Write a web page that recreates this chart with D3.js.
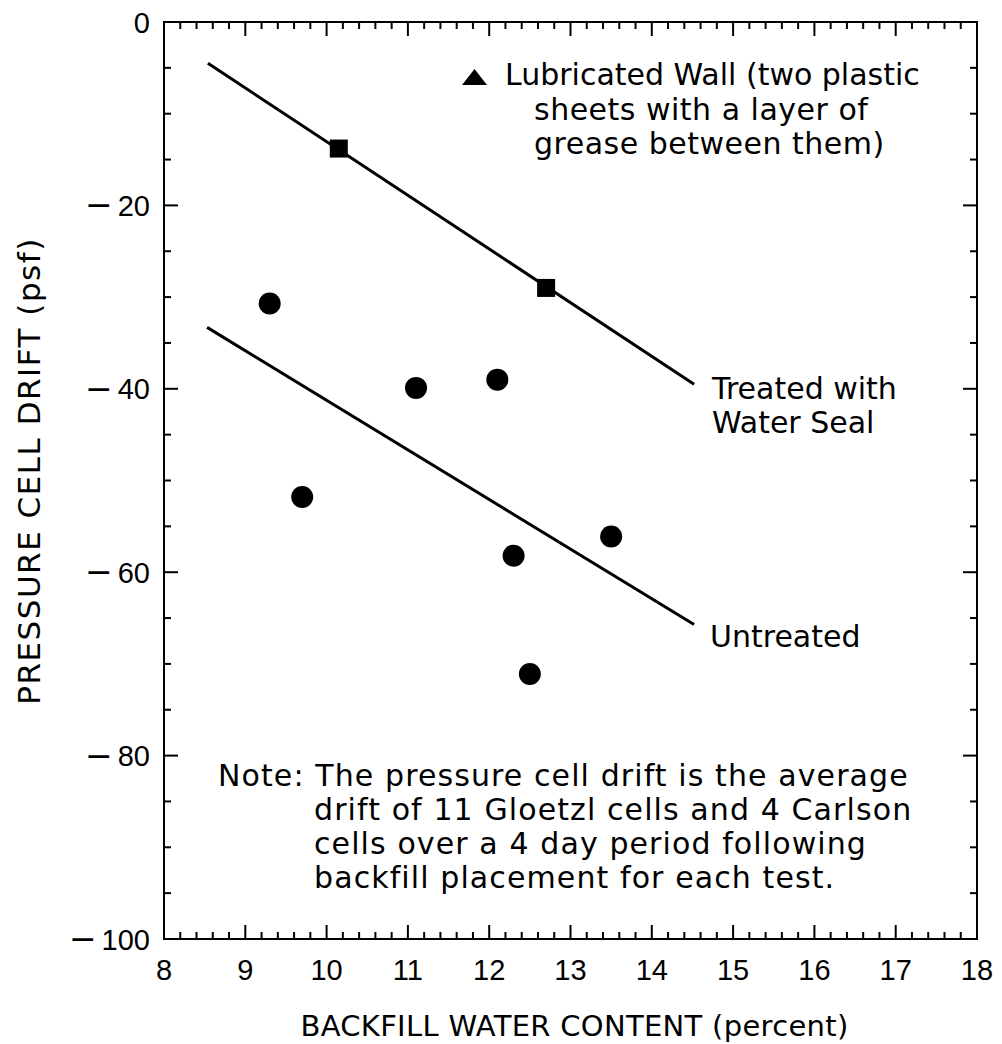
<!DOCTYPE html>
<html>
<head>
<meta charset="utf-8">
<script src="https://cdn.jsdelivr.net/npm/d3@7"></script>
<style>
  html, body { margin: 0; padding: 0; background: #fff; }
  svg { display: block; }
  text { font-family: "DejaVu Sans", sans-serif; fill: #000; }
  .tick-label { font-family: "Liberation Sans", Arial, sans-serif; font-size: 29px; }
</style>
</head>
<body>
<svg id="chart" width="1002" height="1044"></svg>
<script>
// Backfill water content (percent) vs. pressure cell drift (psf)
const xTicks = [8, 9, 10, 11, 12, 13, 14, 15, 16, 17, 18];
const yTicks = [0, -20, -40, -60, -80, -100];

// Cells treated with water seal (squares)
const sealedX = [10.15, 12.7];
const sealedY = [-13.8, -29.0];

// Untreated cells (circles)
const untreatedX = [9.3, 9.7, 11.1, 12.1, 12.3, 12.5, 13.5];
const untreatedY = [-30.7, -51.8, -39.9, -39.0, -58.2, -71.1, -56.1];

// Fitted trend lines (end points)
const sealedFitX = [8.54, 14.52];
const sealedFitY = [-4.5, -39.5];
const untreatedFitX = [8.53, 14.52];
const untreatedFitY = [-33.3, -65.7];

const legendLines = ["Lubricated Wall (two plastic", "sheets with a layer of", "grease between them)"];
const noteLines = [
  "Note: The pressure cell drift is the average",
  "drift of 11 Gloetzl cells and 4 Carlson",
  "cells over a 4 day period following",
  "backfill placement for each test."
];

const svg = d3.select("#chart");
const m = { left: 164, right: 977, top: 22, bottom: 939 };

const x = d3.scaleLinear().domain([8, 18]).range([m.left, m.right]);
const y = d3.scaleLinear().domain([-100, 0]).range([m.bottom, m.top]);

const xMinor = d3.range(8, 18.001, 0.2).map(v => +v.toFixed(1));
const yMinor = d3.range(-100, 0.001, 5);

const major = 14, minor = 7;
const axisG = svg.append("g").attr("stroke", "#000").attr("stroke-width", 2);

// Inward ticks on all four sides
function drawXTicks(yPos, dir) {
  axisG.selectAll(null).data(xMinor).enter().append("line")
    .attr("x1", d => x(d)).attr("x2", d => x(d))
    .attr("y1", yPos)
    .attr("y2", d => yPos + dir * (Math.abs(d - Math.round(d)) < 1e-6 ? major : minor));
}
function drawYTicks(xPos, dir) {
  axisG.selectAll(null).data(yMinor).enter().append("line")
    .attr("y1", d => y(d)).attr("y2", d => y(d))
    .attr("x1", xPos)
    .attr("x2", d => xPos + dir * (d % 20 === 0 ? major : minor));
}
drawXTicks(m.bottom, -1);
drawXTicks(m.top, 1);
drawYTicks(m.left, 1);
drawYTicks(m.right, -1);

axisG.append("rect")
  .attr("x", m.left).attr("y", m.top)
  .attr("width", m.right - m.left).attr("height", m.bottom - m.top)
  .attr("fill", "none");

// Tick labels
svg.append("g").selectAll("text").data(xTicks).enter().append("text")
  .attr("class", "tick-label")
  .attr("x", d => x(d)).attr("y", 980)
  .attr("text-anchor", "middle")
  .text(d => d);

// y labels: digits right-aligned, with a long minus sign set in front
const yLab = svg.append("g");
yTicks.forEach(d => {
  const num = yLab.append("text")
    .attr("class", "tick-label")
    .attr("x", 150).attr("y", y(d) + 10.5)
    .attr("text-anchor", "end")
    .text(Math.abs(d));
  if (d < 0) {
    const w = num.node().getComputedTextLength();
    yLab.append("text")
      .attr("x", 150 - w - 5).attr("y", y(d) + 11)
      .attr("text-anchor", "end")
      .attr("font-size", 33)
      .text("\u2212");
  }
});

// Axis titles
svg.append("text")
  .attr("x", (m.left + m.right) / 2 + 4).attr("y", 1036)
  .attr("text-anchor", "middle")
  .attr("font-size", 29)
  .attr("letter-spacing", 0.3)
  .text("BACKFILL WATER CONTENT (percent)");

svg.append("text")
  .attr("transform", "translate(40,471) rotate(-90)")
  .attr("text-anchor", "middle")
  .attr("font-size", 31)
  .attr("letter-spacing", 1.5)
  .text("PRESSURE CELL DRIFT (psf)");

// Trend lines
const line = d3.line().x(d => x(d[0])).y(d => y(d[1]));
const plot = svg.append("g");
plot.append("path")
  .datum(sealedFitX.map((v, i) => [v, sealedFitY[i]]))
  .attr("d", line).attr("fill", "none").attr("stroke", "#000").attr("stroke-width", 3);
plot.append("path")
  .datum(untreatedFitX.map((v, i) => [v, untreatedFitY[i]]))
  .attr("d", line).attr("fill", "none").attr("stroke", "#000").attr("stroke-width", 3);

// Points
const sq = 18;
plot.selectAll(null).data(sealedX.map((v, i) => [v, sealedY[i]])).enter().append("rect")
  .attr("x", d => x(d[0]) - sq / 2).attr("y", d => y(d[1]) - sq / 2)
  .attr("width", sq).attr("height", sq).attr("fill", "#000");

plot.selectAll(null).data(untreatedX.map((v, i) => [v, untreatedY[i]])).enter().append("circle")
  .attr("cx", d => x(d[0])).attr("cy", d => y(d[1]))
  .attr("r", 11).attr("fill", "#000");

// Line labels
const labels = svg.append("g").attr("font-size", 30);
labels.append("text").attr("x", 712).attr("y", 399).text("Treated with");
labels.append("text").attr("x", 712).attr("y", 433).text("Water Seal");
labels.append("text").attr("x", 710).attr("y", 647).text("Untreated");

// Legend
const legend = svg.append("g").attr("font-size", 30);
legend.append("path")
  .attr("d", "M462,85 L487,85 L474.5,69 Z").attr("fill", "#000");
legend.selectAll(null).data(legendLines).enter().append("text")
  .attr("x", (d, i) => i === 0 ? 505 : 534)
  .attr("y", (d, i) => 85 + i * 34.5)
  .attr("letter-spacing", (d, i) => i === 0 ? 0 : 0.5)
  .text(d => d);

// Note
const note = svg.append("g").attr("font-size", 30).attr("letter-spacing", 1.1);
note.selectAll(null).data(noteLines).enter().append("text")
  .attr("x", (d, i) => i === 0 ? 218 : 314)
  .attr("y", (d, i) => 786 + i * 34)
  .text(d => d);
</script>
</body>
</html>
